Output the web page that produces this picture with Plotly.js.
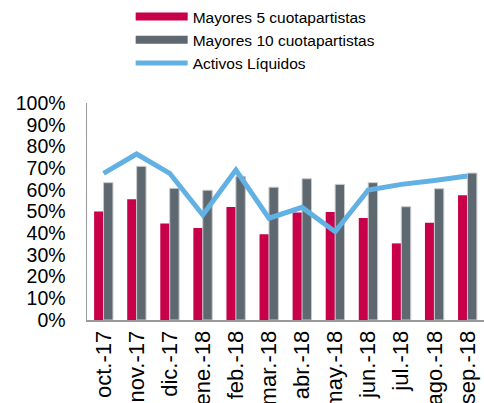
<!DOCTYPE html>
<html><head><meta charset="utf-8">
<script src="https://cdn.plot.ly/plotly-3.0.1.min.js"></script>
<style>html,body{margin:0;padding:0;background:#fff;}#c{width:484px;height:403px;}</style>
</head><body><div id="c"></div>
<script>
const categories = ["oct.-17","nov.-17","dic.-17","ene.-18","feb.-18","mar.-18","abr.-18","may.-18","jun.-18","jul.-18","ago.-18","sep.-18"];
const mayores5 = [0.50,0.556,0.445,0.424,0.521,0.395,0.495,0.498,0.47,0.353,0.448,0.575];
const mayores10 = [0.633,0.708,0.607,0.598,0.662,0.612,0.651,0.625,0.633,0.522,0.605,0.677];
const activosLiquidos = [0.676,0.765,0.676,0.484,0.691,0.469,0.519,0.407,0.599,0.625,0.643,0.664];
const yTicks = [0,0.1,0.2,0.3,0.4,0.5,0.6,0.7,0.8,0.9,1.0];
const yTickLabels = ["0%","10%","20%","30%","40%","50%","60%","70%","80%","90%","100%"];

const RED = "#C8004A", GREY = "#5E6870", BLUE = "#62B1E4";
const data = [
  {type:"bar", x:categories, y:mayores5, marker:{color:RED}, showlegend:false, hoverinfo:"skip"},
  {type:"bar", x:categories, y:mayores10, marker:{color:GREY, line:{color:"#c8cbce", width:1}}, showlegend:false, hoverinfo:"skip"},
  {type:"scatter", mode:"lines", x:categories, y:activosLiquidos, line:{color:BLUE, width:5}, showlegend:false},
  {type:"scatter", mode:"lines", x:[null], y:[null], name:"Mayores 5 cuotapartistas", line:{color:RED, width:8}},
  {type:"scatter", mode:"lines", x:[null], y:[null], name:"Mayores 10 cuotapartistas", line:{color:GREY, width:8}},
  {type:"scatter", mode:"lines", x:[null], y:[null], name:"Activos Líquidos", line:{color:BLUE, width:5}}
];
const layout = {
  width:484, height:403,
  margin:{l:87, r:0, t:103, b:83},
  paper_bgcolor:"#fff", plot_bgcolor:"#fff",
  font:{family:"Liberation Sans, Arial, sans-serif", color:"#000"},
  barmode:"group", bargap:0.43, bargroupgap:0,
  xaxis:{type:"category", tickangle:-90, tickfont:{size:22, color:"#000"}, showline:true, linecolor:"#999", linewidth:2, ticks:"", showgrid:false, zeroline:false, fixedrange:true, automargin:false},
  yaxis:{range:[0,1], tickvals:yTicks, ticktext:yTickLabels, tickfont:{size:19.5, color:"#000"}, showline:true, linecolor:"#999", linewidth:1.5, ticks:"", showgrid:false, zeroline:false, ticklabelstandoff:16},
  legend:{x:0.11, xanchor:"left", y:1.0, yref:"container", yanchor:"top", font:{size:15.5, color:"#000"}, itemwidth:52, bgcolor:"rgba(0,0,0,0)", tracegroupgap:0},
  showlegend:true
};
Plotly.newPlot("c", data, layout, {staticPlot:true});
</script></body></html>
